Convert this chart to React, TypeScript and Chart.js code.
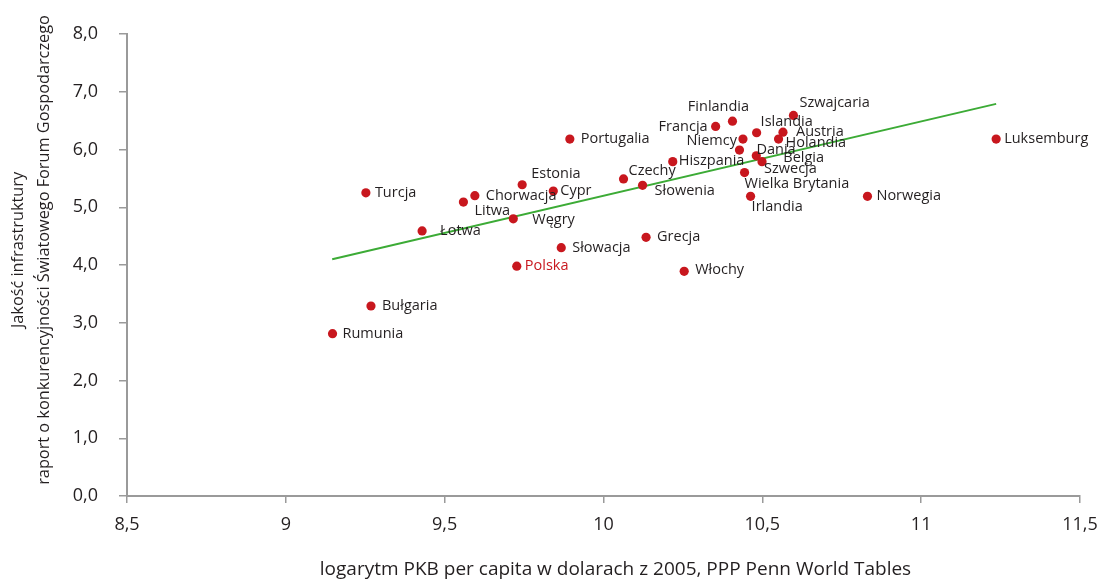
import React, { useEffect, useRef } from 'react';
import { Chart, registerables } from 'chart.js';

Chart.register(...registerables);

const countries = [
  'Rumunia', 'Bułgaria', 'Turcja', 'Łotwa', 'Litwa', 'Chorwacja', 'Węgry', 'Estonia',
  'Polska', 'Cypr', 'Słowacja', 'Portugalia', 'Czechy', 'Słowenia', 'Grecja', 'Hiszpania',
  'Włochy', 'Francja', 'Finlandia', 'Niemcy', 'Dania', 'Islandia', 'Szwajcaria', 'Austria',
  'Holandia', 'Belgia', 'Szwecja', 'Wielka Brytania', 'Irlandia', 'Norwegia', 'Luksemburg',
];

const gdpLog = [
  9.147, 9.268, 9.252, 9.429, 9.559, 9.595, 9.716, 9.744,
  9.727, 9.842, 9.867, 9.894, 10.063, 10.123, 10.134, 10.218,
  10.254, 10.353, 10.406, 10.439, 10.428, 10.482, 10.598, 10.565,
  10.551, 10.481, 10.499, 10.444, 10.463, 10.831, 11.236,
];

const infra = [
  2.81, 3.29, 5.25, 4.59, 5.09, 5.2, 4.8, 5.39,
  3.98, 5.28, 4.3, 6.18, 5.49, 5.38, 4.48, 5.79,
  3.89, 6.4, 6.49, 6.18, 5.99, 6.29, 6.59, 6.3,
  6.18, 5.89, 5.79, 5.6, 5.19, 5.19, 6.18,
];

const trendX = [9.146, 11.236];
const trendY = [4.1, 6.79];

const highlighted = 'Polska';

const xTitle = 'logarytm PKB per capita w dolarach z 2005, PPP Penn World Tables';
const yTitle = ['Jakość infrastruktury', 'raport o konkurencyjności Światowego Forum Gospodarczego'];

// label placement relative to each point (pixels): [dx, dy, align]
const labelPlacement: [number, number, CanvasTextAlign][] = [
  [10, 0, 'left'], [11, 0, 'left'], [9, 0, 'left'], [18, 0, 'left'], [11, 9, 'left'],
  [11, 0, 'left'], [19, 1, 'left'], [9, -11, 'left'], [8, 0, 'left'], [7, 0, 'left'],
  [11, 0, 'left'], [11, 0, 'left'], [5, -8, 'left'], [12, 6, 'left'], [11, 0, 'left'],
  [6, -1, 'left'], [11, -1, 'left'], [-8, 0, 'right'], [-14, -14, 'center'], [-6, 2, 'right'],
  [17, 0, 'left'], [4, -11, 'left'], [6, -13, 'left'], [13, 0, 'left'], [7, 4, 'left'],
  [27, 2, 'left'], [2, 7, 'left'], [0, 11, 'left'], [1, 11, 'left'], [9, 0, 'left'],
  [8, 0, 'left'],
];

const RED = '#c8171e';
const GREEN = '#3cab36';
const TEXT = '#231f20';
const AXIS = '#9a9a9a';
const FONT = '"Open Sans", "Noto Sans", sans-serif';

const fmt = (v: number) => String(Math.round(v * 10) / 10).replace('.', ',');

const labelsPlugin = {
  id: 'pointLabels',
  afterDatasetsDraw(chart: any) {
    const meta = chart.getDatasetMeta(0);
    const ctx = chart.ctx;
    ctx.save();
    ctx.font = `14.5px ${FONT}`;
    ctx.textBaseline = 'middle';
    meta.data.forEach((pt: any, i: number) => {
      const [dx, dy, align] = labelPlacement[i];
      ctx.textAlign = align;
      ctx.fillStyle = countries[i] === highlighted ? RED : TEXT;
      ctx.fillText(countries[i], pt.x + dx, pt.y + dy);
    });
    ctx.restore();
  },
};

const titlesPlugin = {
  id: 'axisTitles',
  afterDraw(chart: any) {
    const ctx = chart.ctx;
    const area = chart.chartArea;
    ctx.save();
    ctx.fillStyle = TEXT;
    ctx.font = `19px ${FONT}`;
    ctx.textAlign = 'center';
    ctx.textBaseline = 'middle';
    ctx.fillText(xTitle, area.left + (area.right - area.left) / 2 + 12, chart.height - 13);
    ctx.font = `16.3px ${FONT}`;
    ctx.translate(0, area.top + (area.bottom - area.top) / 2 - 15);
    ctx.rotate(-Math.PI / 2);
    yTitle.forEach((line, i) => {
      ctx.fillText(line, 0, 18 + i * 26);
    });
    ctx.restore();
  },
};

export default function App() {
  const ref = useRef<HTMLCanvasElement>(null);

  useEffect(() => {
    if (!ref.current) return;
    const chart = new Chart(ref.current, {
      type: 'scatter',
      data: {
        datasets: [
          {
            label: 'Kraje',
            data: gdpLog.map((x, i) => ({ x, y: infra[i] })),
            backgroundColor: RED,
            borderColor: RED,
            pointRadius: 4.6,
            pointHoverRadius: 4.6,
            borderWidth: 0,
          },
          {
            label: 'Trend',
            type: 'line',
            data: trendX.map((x, i) => ({ x, y: trendY[i] })),
            borderColor: GREEN,
            borderWidth: 2,
            pointRadius: 0,
            fill: false,
            showLine: true,
          } as any,
        ],
      },
      options: {
        responsive: false,
        animation: false,
        devicePixelRatio: 1,
        layout: { padding: { top: 34, right: 23, left: 0, bottom: 0 } },
        plugins: {
          legend: { display: false },
          tooltip: { enabled: false },
        },
        scales: {
          x: {
            type: 'linear',
            min: 8.5,
            max: 11.5,
            afterFit: (scale: any) => {
              scale.height = 87;
              scale.paddingLeft = 0;
              scale.paddingRight = 0;
            },
            ticks: {
              stepSize: 0.5,
              padding: 11,
              color: TEXT,
              font: { family: FONT, size: 18 },
              callback: (v: any) => fmt(Number(v)),
            },
            grid: {
              drawOnChartArea: false,
              drawTicks: true,
              tickLength: 7,
              color: AXIS,
              lineWidth: 1.5,
            },
            border: { color: AXIS, width: 2 },
          },
          y: {
            type: 'linear',
            min: 0,
            max: 8,
            afterFit: (scale: any) => {
              scale.width = 127;
              scale.paddingTop = 0;
              scale.paddingBottom = 0;
            },
            ticks: {
              stepSize: 1,
              padding: 21,
              color: TEXT,
              font: { family: FONT, size: 18 },
              callback: (v: any) => Number(v).toFixed(1).replace('.', ','),
            },
            grid: {
              drawOnChartArea: false,
              drawTicks: true,
              tickLength: 8,
              color: AXIS,
              lineWidth: 1.5,
            },
            border: { color: AXIS, width: 2 },
          },
        },
      },
      plugins: [labelsPlugin, titlesPlugin],
    });
    return () => chart.destroy();
  }, []);

  return (
    <div style={{ position: 'absolute', left: 0, top: 0, width: 1103, height: 583, background: '#fff' }}>
      <canvas ref={ref} width={1103} height={583} />
    </div>
  );
}
